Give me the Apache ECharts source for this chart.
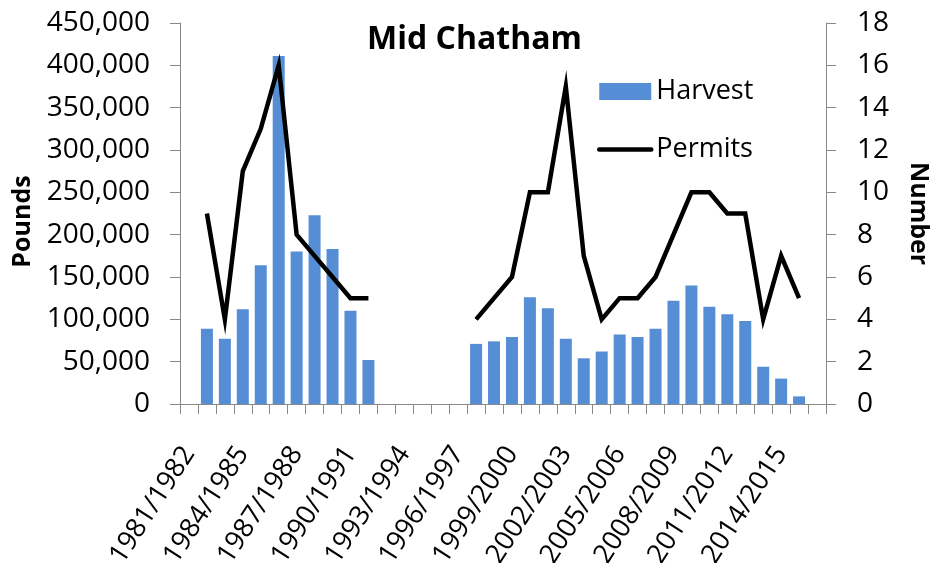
<!DOCTYPE html>
<html>
<head>
<meta charset="utf-8">
<script src="https://cdn.jsdelivr.net/npm/echarts@6/dist/echarts.min.js"></script>
<style>
  html, body { margin: 0; padding: 0; background: #fff; }
  #chart { width: 933px; height: 563px; }
</style>
</head>
<body>
<div id="chart"></div>
<script>
const categories = [
  '1981/1982','1982/1983','1983/1984','1984/1985','1985/1986','1986/1987',
  '1987/1988','1988/1989','1989/1990','1990/1991','1991/1992','1992/1993',
  '1993/1994','1994/1995','1995/1996','1996/1997','1997/1998','1998/1999',
  '1999/2000','2000/2001','2001/2002','2002/2003','2003/2004','2004/2005',
  '2005/2006','2006/2007','2007/2008','2008/2009','2009/2010','2010/2011',
  '2011/2012','2012/2013','2013/2014','2014/2015','2015/2016','2016/2017'
];
const harvest = [
  null, 89000, 77000, 112000, 164000, 411000, 180000, 223000, 183000, 110000,
  52000, null, null, null, null, null, 71000, 74000, 79000, 126000,
  113000, 77000, 54000, 62000, 82000, 79000, 89000, 122000, 140000, 115000,
  106000, 98000, 44000, 30000, 9000, null
];
const permits = [
  null, 9, 4, 11, 13, 16, 8, 7, 6, 5,
  5, null, null, null, null, null, 4, 5, 6, 10,
  10, 15, 7, 4, 5, 5, 6, 8, 10, 10,
  9, 9, 4, 7, 5, null
];
const leftTicks = { min: 0, max: 450000, interval: 50000 };
const rightTicks = { min: 0, max: 18, interval: 2 };

const FONT = 'Open Sans';
const axisGrey = '#898989';

const chart = echarts.init(document.getElementById('chart'), null, { renderer: 'canvas' });
chart.setOption({
  animation: false,
  backgroundColor: '#ffffff',
  textStyle: { fontFamily: FONT, color: '#000' },
  title: {
    text: 'Mid Chatham',
    left: 367,
    top: 24,
    padding: 0,
    textStyle: { fontFamily: FONT, fontSize: 32, fontWeight: 'bold', color: '#000' }
  },
  legend: {
    orient: 'vertical',
    left: 597,
    top: 78,
    padding: 0,
    itemGap: 31,
    itemWidth: 52,
    itemHeight: 17,
    textStyle: { fontFamily: FONT, fontSize: 27, color: '#000' },
    data: [
      { name: 'Harvest', icon: 'rect' },
      {
        name: 'Permits',
        itemStyle: { opacity: 0, color: 'rgba(0,0,0,0)', borderWidth: 0 },
        lineStyle: { width: 4.5, color: '#000', cap: 'round' }
      }
    ]
  },
  grid: {
    left: 180, right: 107, top: 23, bottom: 159,
    containLabel: false,
    outerBoundsMode: 'none'
  },
  xAxis: {
    type: 'category',
    data: categories,
    boundaryGap: true,
    axisLine: { lineStyle: { color: axisGrey, width: 1 } },
    axisTick: { show: true, alignWithLabel: false, interval: 0, length: 10, lineStyle: { color: axisGrey } },
    axisLabel: {
      interval: 2,
      rotate: 57,
      margin: 45,
      fontFamily: FONT,
      fontSize: 27,
      color: '#000'
    },
    splitLine: { show: false }
  },
  yAxis: [
    {
      type: 'value',
      min: leftTicks.min, max: leftTicks.max, interval: leftTicks.interval,
      name: 'Pounds',
      nameLocation: 'middle',
      nameRotate: 90,
      nameGap: 141,
      nameTextStyle: { fontFamily: FONT, fontSize: 25, fontWeight: 'bold', color: '#000', padding: [0, 16, 0, 0] },
      axisLine: { show: true, lineStyle: { color: axisGrey } },
      axisTick: { show: true, length: 10, lineStyle: { color: axisGrey } },
      axisLabel: {
        margin: 30,
        fontFamily: FONT, fontSize: 28, color: '#000',
        formatter: v => v.toLocaleString('en-US')
      },
      splitLine: { show: false }
    },
    {
      type: 'value',
      position: 'right',
      min: rightTicks.min, max: rightTicks.max, interval: rightTicks.interval,
      name: 'Number',
      nameLocation: 'middle',
      nameRotate: -90,
      nameGap: 80,
      nameTextStyle: { fontFamily: FONT, fontSize: 25, fontWeight: 'bold', color: '#000' },
      axisLine: { show: true, lineStyle: { color: axisGrey } },
      axisTick: { show: true, length: 10, lineStyle: { color: axisGrey } },
      axisLabel: { margin: 31, fontFamily: FONT, fontSize: 28, color: '#000' },
      splitLine: { show: false }
    }
  ],
  series: [
    {
      name: 'Harvest',
      type: 'bar',
      yAxisIndex: 0,
      data: harvest,
      barWidth: 12,
      itemStyle: { color: '#558ED5' }
    },
    {
      name: 'Permits',
      type: 'line',
      yAxisIndex: 1,
      data: permits,
      symbol: 'none',
      connectNulls: false,
      lineStyle: { color: '#000', width: 4.5, join: 'miter' },
      itemStyle: { color: '#000' }
    }
  ]
});
</script>
</body>
</html>
